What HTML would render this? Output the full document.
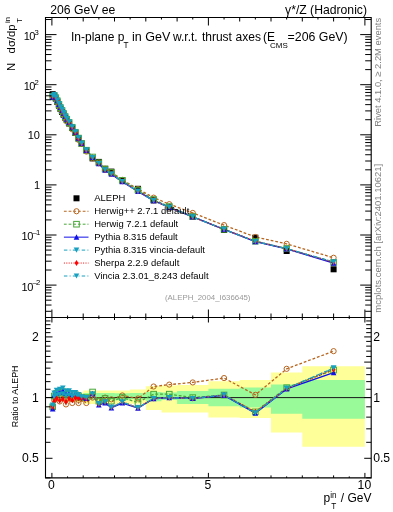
<!DOCTYPE html><html><head><meta charset="utf-8"><style>html,body{margin:0;padding:0;background:#fff;width:393px;height:512px;overflow:hidden;position:relative}</style></head><body><svg width="393" height="512" viewBox="0 0 393 512" style="position:absolute;left:0;top:0;will-change:transform">
<rect width="393" height="512" fill="#fff"/>
<defs><clipPath id="cm"><rect x="46" y="18" width="324.7" height="299"/></clipPath>
<clipPath id="cr"><rect x="46" y="318" width="324.7" height="159.2"/></clipPath></defs>
<g clip-path="url(#cr)">
<path d="M51.90,394.17 L53.46,394.17 L53.46,394.17 L55.03,394.17 L55.03,394.17 L58.16,394.17 L58.16,394.17 L61.29,394.17 L61.29,394.17 L64.42,394.17 L64.42,394.17 L67.55,394.17 L67.55,392.50 L70.68,392.50 L70.68,392.50 L73.81,392.50 L73.81,392.50 L76.94,392.50 L76.94,392.50 L80.07,392.50 L80.07,392.50 L83.20,392.50 L83.20,390.46 L89.46,390.46 L89.46,390.46 L95.72,390.46 L95.72,390.46 L101.98,390.46 L101.98,390.46 L108.24,390.46 L108.24,390.46 L114.50,390.46 L114.50,390.46 L130.15,390.46 L130.15,389.41 L145.80,389.41 L145.80,386.28 L161.45,386.28 L161.45,385.59 L177.10,385.59 L177.10,384.98 L208.40,384.98 L208.40,381.20 L239.70,381.20 L239.70,379.97 L271.00,379.97 L271.00,372.50 L302.30,372.50 L302.30,366.22 L364.90,366.22 L364.90,446.82 L302.30,446.82 L302.30,432.53 L271.00,432.53 L271.00,418.02 L239.70,418.02 L239.70,417.47 L208.40,417.47 L208.40,412.55 L177.10,412.55 L177.10,412.55 L161.45,412.55 L161.45,409.99 L145.80,409.99 L145.80,403.77 L130.15,403.77 L130.15,403.95 L114.50,403.95 L114.50,403.95 L108.24,403.95 L108.24,403.95 L101.98,403.95 L101.98,403.95 L95.72,403.95 L95.72,403.95 L89.46,403.95 L89.46,403.95 L83.20,403.95 L83.20,402.09 L80.07,402.09 L80.07,402.09 L76.94,402.09 L76.94,402.09 L73.81,402.09 L73.81,402.09 L70.68,402.09 L70.68,402.09 L67.55,402.09 L67.55,401.17 L64.42,401.17 L64.42,401.17 L61.29,401.17 L61.29,401.17 L58.16,401.17 L58.16,401.17 L55.03,401.17 L55.03,401.17 L53.46,401.17 L53.46,401.17 L51.90,401.17Z" fill="#ffff99"/>
<path d="M51.90,395.87 L53.46,395.87 L53.46,395.87 L55.03,395.87 L55.03,395.87 L58.16,395.87 L58.16,395.87 L61.29,395.87 L61.29,395.87 L64.42,395.87 L64.42,395.87 L67.55,395.87 L67.55,395.01 L70.68,395.01 L70.68,395.01 L73.81,395.01 L73.81,395.01 L76.94,395.01 L76.94,395.01 L80.07,395.01 L80.07,395.01 L83.20,395.01 L83.20,392.91 L89.46,392.91 L89.46,392.91 L95.72,392.91 L95.72,392.91 L101.98,392.91 L101.98,392.91 L108.24,392.91 L108.24,392.91 L114.50,392.91 L114.50,393.33 L130.15,393.33 L130.15,393.08 L145.80,393.08 L145.80,391.92 L161.45,391.92 L161.45,392.50 L177.10,392.50 L177.10,391.02 L208.40,391.02 L208.40,388.78 L239.70,388.78 L239.70,387.52 L271.00,387.52 L271.00,384.61 L302.30,384.61 L302.30,379.97 L364.90,379.97 L364.90,418.79 L302.30,418.79 L302.30,413.81 L271.00,413.81 L271.00,407.51 L239.70,407.51 L239.70,406.24 L208.40,406.24 L208.40,403.95 L177.10,403.95 L177.10,400.00 L161.45,400.00 L161.45,401.27 L145.80,401.27 L145.80,399.37 L130.15,399.37 L130.15,400.27 L114.50,400.27 L114.50,400.09 L108.24,400.09 L108.24,400.09 L101.98,400.09 L101.98,400.09 L95.72,400.09 L95.72,400.09 L89.46,400.09 L89.46,400.09 L83.20,400.09 L83.20,399.82 L80.07,399.82 L80.07,399.82 L76.94,399.82 L76.94,399.82 L73.81,399.82 L73.81,399.82 L70.68,399.82 L70.68,399.82 L67.55,399.82 L67.55,399.37 L64.42,399.37 L64.42,399.37 L61.29,399.37 L61.29,399.37 L58.16,399.37 L58.16,399.37 L55.03,399.37 L55.03,399.37 L53.46,399.37 L53.46,399.37 L51.90,399.37Z" fill="#98fa98"/>
<line x1="46" y1="397.6" x2="371" y2="397.6" stroke="#1a1a1a" stroke-width="1"/>
<polyline points="52.68,406.82 54.25,400.27 56.59,398.48 59.73,401.45 62.85,398.48 65.98,404.43 69.12,398.48 72.25,403.02 75.38,398.48 78.50,403.02 81.63,398.92 86.33,403.02 92.59,397.60 98.85,400.27 105.11,397.60 111.37,399.37 122.32,395.44 137.97,398.48 153.62,386.51 169.28,384.61 192.75,382.44 224.05,378.06 255.35,394.84 286.65,368.83 333.60,351.14" fill="none" stroke="#b8651f" stroke-width="1.3" stroke-dasharray="2.8,1.9"/>
<polyline points="52.68,406.82 54.25,396.00 56.59,393.33 59.73,392.50 62.85,391.68 65.98,394.17 69.12,393.33 72.25,394.59 75.38,394.59 78.50,395.87 81.63,397.60 86.33,397.60 92.59,392.00 98.85,401.17 105.11,398.48 111.37,401.17 122.32,397.60 137.97,402.55 153.62,394.17 169.28,394.17 192.75,397.60 224.05,395.01 255.35,411.83 286.65,387.68 333.60,370.04" fill="none" stroke="#48a838" stroke-width="1.3" stroke-dasharray="2.8,1.9"/>
<polyline points="52.68,408.99 54.25,394.96 56.59,392.91 59.73,391.88 62.85,390.82 65.98,393.50 69.12,393.12 72.25,394.38 75.38,394.38 78.50,395.87 81.63,397.16 86.33,398.48 92.59,393.75 98.85,404.90 105.11,403.02 111.37,407.80 122.32,403.02 137.97,408.10 153.62,398.75 169.28,397.60 192.75,398.48 224.05,395.35 255.35,413.18 286.65,388.94 333.60,372.63" fill="none" stroke="#1010e8" stroke-width="1.4"/>
<polyline points="52.68,406.82 54.25,396.83 56.59,395.44 59.73,394.59 62.85,393.75 65.98,395.87 69.12,395.44 72.25,396.30 75.38,396.30 78.50,397.16 81.63,397.60 86.33,397.60 92.59,394.17 98.85,403.95 105.11,402.09 111.37,407.31 122.32,402.09 137.97,407.80 153.62,398.48 169.28,397.60 192.75,398.48 224.05,395.01 255.35,412.87 286.65,388.46 333.60,368.14" fill="none" stroke="#18a0c0" stroke-width="1.3" stroke-dasharray="3.5,2.2,1,2.2"/>
<polyline points="52.68,406.82 54.25,401.15 56.59,398.48 59.73,400.72 62.85,398.92 65.98,401.63 69.12,398.48 72.25,400.27 75.38,398.04 78.50,398.26 81.63,398.48 86.33,398.48 92.59,394.17 98.85,403.95 105.11,402.09 111.37,407.31 122.32,402.09 137.97,407.80 153.62,398.48 169.28,397.60 192.75,398.48 224.05,395.01 255.35,411.83 286.65,388.46 333.60,369.40" fill="none" stroke="#ff0000" stroke-width="1.3" stroke-dasharray="1,1.4"/>
<polyline points="52.68,405.19 54.25,393.12 56.59,390.46 59.73,389.26 62.85,387.99 65.98,391.19 69.12,390.86 72.25,392.50 75.38,392.50 78.50,394.59 81.63,396.73 86.33,397.60 92.59,394.17 98.85,403.95 105.11,402.09 111.37,407.31 122.32,402.09 137.97,407.80 153.62,398.48 169.28,397.60 192.75,398.48 224.05,395.01 255.35,412.87 286.65,388.46 333.60,368.14" fill="none" stroke="#18a0c0" stroke-width="1.3" stroke-dasharray="3.5,2.2,1,2.2"/>
<circle cx="52.68" cy="406.82" r="2.6" fill="none" stroke="#b8651f" stroke-width="1"/>
<circle cx="54.25" cy="400.27" r="2.6" fill="none" stroke="#b8651f" stroke-width="1"/>
<circle cx="56.59" cy="398.48" r="2.6" fill="none" stroke="#b8651f" stroke-width="1"/>
<circle cx="59.73" cy="401.45" r="2.6" fill="none" stroke="#b8651f" stroke-width="1"/>
<circle cx="62.85" cy="398.48" r="2.6" fill="none" stroke="#b8651f" stroke-width="1"/>
<circle cx="65.98" cy="404.43" r="2.6" fill="none" stroke="#b8651f" stroke-width="1"/>
<circle cx="69.12" cy="398.48" r="2.6" fill="none" stroke="#b8651f" stroke-width="1"/>
<circle cx="72.25" cy="403.02" r="2.6" fill="none" stroke="#b8651f" stroke-width="1"/>
<circle cx="75.38" cy="398.48" r="2.6" fill="none" stroke="#b8651f" stroke-width="1"/>
<circle cx="78.50" cy="403.02" r="2.6" fill="none" stroke="#b8651f" stroke-width="1"/>
<circle cx="81.63" cy="398.92" r="2.6" fill="none" stroke="#b8651f" stroke-width="1"/>
<circle cx="86.33" cy="403.02" r="2.6" fill="none" stroke="#b8651f" stroke-width="1"/>
<circle cx="92.59" cy="397.60" r="2.6" fill="none" stroke="#b8651f" stroke-width="1"/>
<circle cx="98.85" cy="400.27" r="2.6" fill="none" stroke="#b8651f" stroke-width="1"/>
<circle cx="105.11" cy="397.60" r="2.6" fill="none" stroke="#b8651f" stroke-width="1"/>
<circle cx="111.37" cy="399.37" r="2.6" fill="none" stroke="#b8651f" stroke-width="1"/>
<circle cx="122.32" cy="395.44" r="2.6" fill="none" stroke="#b8651f" stroke-width="1"/>
<circle cx="137.97" cy="398.48" r="2.6" fill="none" stroke="#b8651f" stroke-width="1"/>
<circle cx="153.62" cy="386.51" r="2.6" fill="none" stroke="#b8651f" stroke-width="1"/>
<circle cx="169.28" cy="384.61" r="2.6" fill="none" stroke="#b8651f" stroke-width="1"/>
<circle cx="192.75" cy="382.44" r="2.6" fill="none" stroke="#b8651f" stroke-width="1"/>
<circle cx="224.05" cy="378.06" r="2.6" fill="none" stroke="#b8651f" stroke-width="1"/>
<circle cx="255.35" cy="394.84" r="2.6" fill="none" stroke="#b8651f" stroke-width="1"/>
<circle cx="286.65" cy="368.83" r="2.6" fill="none" stroke="#b8651f" stroke-width="1"/>
<circle cx="333.60" cy="351.14" r="2.6" fill="none" stroke="#b8651f" stroke-width="1"/>
<rect x="49.88" y="404.02" width="5.6" height="5.6" fill="none" stroke="#48a838" stroke-width="1"/>
<rect x="51.45" y="393.20" width="5.6" height="5.6" fill="none" stroke="#48a838" stroke-width="1"/>
<rect x="53.80" y="390.53" width="5.6" height="5.6" fill="none" stroke="#48a838" stroke-width="1"/>
<rect x="56.93" y="389.70" width="5.6" height="5.6" fill="none" stroke="#48a838" stroke-width="1"/>
<rect x="60.05" y="388.88" width="5.6" height="5.6" fill="none" stroke="#48a838" stroke-width="1"/>
<rect x="63.19" y="391.37" width="5.6" height="5.6" fill="none" stroke="#48a838" stroke-width="1"/>
<rect x="66.32" y="390.53" width="5.6" height="5.6" fill="none" stroke="#48a838" stroke-width="1"/>
<rect x="69.45" y="391.79" width="5.6" height="5.6" fill="none" stroke="#48a838" stroke-width="1"/>
<rect x="72.58" y="391.79" width="5.6" height="5.6" fill="none" stroke="#48a838" stroke-width="1"/>
<rect x="75.70" y="393.07" width="5.6" height="5.6" fill="none" stroke="#48a838" stroke-width="1"/>
<rect x="78.83" y="394.80" width="5.6" height="5.6" fill="none" stroke="#48a838" stroke-width="1"/>
<rect x="83.53" y="394.80" width="5.6" height="5.6" fill="none" stroke="#48a838" stroke-width="1"/>
<rect x="89.79" y="389.20" width="5.6" height="5.6" fill="none" stroke="#48a838" stroke-width="1"/>
<rect x="96.05" y="398.37" width="5.6" height="5.6" fill="none" stroke="#48a838" stroke-width="1"/>
<rect x="102.31" y="395.68" width="5.6" height="5.6" fill="none" stroke="#48a838" stroke-width="1"/>
<rect x="108.57" y="398.37" width="5.6" height="5.6" fill="none" stroke="#48a838" stroke-width="1"/>
<rect x="119.52" y="394.80" width="5.6" height="5.6" fill="none" stroke="#48a838" stroke-width="1"/>
<rect x="135.17" y="399.75" width="5.6" height="5.6" fill="none" stroke="#48a838" stroke-width="1"/>
<rect x="150.82" y="391.37" width="5.6" height="5.6" fill="none" stroke="#48a838" stroke-width="1"/>
<rect x="166.47" y="391.37" width="5.6" height="5.6" fill="none" stroke="#48a838" stroke-width="1"/>
<rect x="189.95" y="394.80" width="5.6" height="5.6" fill="none" stroke="#48a838" stroke-width="1"/>
<rect x="221.25" y="392.21" width="5.6" height="5.6" fill="none" stroke="#48a838" stroke-width="1"/>
<rect x="252.55" y="409.03" width="5.6" height="5.6" fill="none" stroke="#48a838" stroke-width="1"/>
<rect x="283.85" y="384.88" width="5.6" height="5.6" fill="none" stroke="#48a838" stroke-width="1"/>
<rect x="330.80" y="367.24" width="5.6" height="5.6" fill="none" stroke="#48a838" stroke-width="1"/>
<path d="M49.88,411.59L55.48,411.59L52.68,405.99Z" fill="#1010e8"/>
<path d="M51.45,397.56L57.05,397.56L54.25,391.96Z" fill="#1010e8"/>
<path d="M53.80,395.51L59.39,395.51L56.59,389.91Z" fill="#1010e8"/>
<path d="M56.93,394.48L62.52,394.48L59.73,388.88Z" fill="#1010e8"/>
<path d="M60.05,393.42L65.66,393.42L62.85,387.82Z" fill="#1010e8"/>
<path d="M63.19,396.10L68.78,396.10L65.98,390.50Z" fill="#1010e8"/>
<path d="M66.32,395.72L71.92,395.72L69.12,390.12Z" fill="#1010e8"/>
<path d="M69.45,396.98L75.05,396.98L72.25,391.38Z" fill="#1010e8"/>
<path d="M72.58,396.98L78.17,396.98L75.38,391.38Z" fill="#1010e8"/>
<path d="M75.70,398.47L81.30,398.47L78.50,392.87Z" fill="#1010e8"/>
<path d="M78.83,399.76L84.43,399.76L81.63,394.16Z" fill="#1010e8"/>
<path d="M83.53,401.08L89.13,401.08L86.33,395.48Z" fill="#1010e8"/>
<path d="M89.79,396.35L95.39,396.35L92.59,390.75Z" fill="#1010e8"/>
<path d="M96.05,407.50L101.65,407.50L98.85,401.90Z" fill="#1010e8"/>
<path d="M102.31,405.62L107.91,405.62L105.11,400.02Z" fill="#1010e8"/>
<path d="M108.57,410.40L114.17,410.40L111.37,404.80Z" fill="#1010e8"/>
<path d="M119.52,405.62L125.12,405.62L122.32,400.02Z" fill="#1010e8"/>
<path d="M135.17,410.70L140.78,410.70L137.97,405.10Z" fill="#1010e8"/>
<path d="M150.82,401.35L156.43,401.35L153.62,395.75Z" fill="#1010e8"/>
<path d="M166.47,400.20L172.08,400.20L169.28,394.60Z" fill="#1010e8"/>
<path d="M189.95,401.08L195.55,401.08L192.75,395.48Z" fill="#1010e8"/>
<path d="M221.25,397.95L226.85,397.95L224.05,392.35Z" fill="#1010e8"/>
<path d="M252.55,415.78L258.15,415.78L255.35,410.18Z" fill="#1010e8"/>
<path d="M283.85,391.54L289.45,391.54L286.65,385.94Z" fill="#1010e8"/>
<path d="M330.80,375.23L336.40,375.23L333.60,369.63Z" fill="#1010e8"/>
<path d="M49.88,404.22L55.48,404.22L52.68,409.42Z" fill="#18a0c0"/>
<path d="M51.45,394.23L57.05,394.23L54.25,399.43Z" fill="#18a0c0"/>
<path d="M53.80,392.84L59.39,392.84L56.59,398.04Z" fill="#18a0c0"/>
<path d="M56.93,391.99L62.52,391.99L59.73,397.19Z" fill="#18a0c0"/>
<path d="M60.05,391.15L65.66,391.15L62.85,396.35Z" fill="#18a0c0"/>
<path d="M63.19,393.27L68.78,393.27L65.98,398.47Z" fill="#18a0c0"/>
<path d="M66.32,392.84L71.92,392.84L69.12,398.04Z" fill="#18a0c0"/>
<path d="M69.45,393.70L75.05,393.70L72.25,398.90Z" fill="#18a0c0"/>
<path d="M72.58,393.70L78.17,393.70L75.38,398.90Z" fill="#18a0c0"/>
<path d="M75.70,394.56L81.30,394.56L78.50,399.76Z" fill="#18a0c0"/>
<path d="M78.83,395.00L84.43,395.00L81.63,400.20Z" fill="#18a0c0"/>
<path d="M83.53,395.00L89.13,395.00L86.33,400.20Z" fill="#18a0c0"/>
<path d="M89.79,391.57L95.39,391.57L92.59,396.77Z" fill="#18a0c0"/>
<path d="M96.05,401.35L101.65,401.35L98.85,406.55Z" fill="#18a0c0"/>
<path d="M102.31,399.49L107.91,399.49L105.11,404.69Z" fill="#18a0c0"/>
<path d="M108.57,404.71L114.17,404.71L111.37,409.91Z" fill="#18a0c0"/>
<path d="M119.52,399.49L125.12,399.49L122.32,404.69Z" fill="#18a0c0"/>
<path d="M135.17,405.20L140.78,405.20L137.97,410.40Z" fill="#18a0c0"/>
<path d="M150.82,395.88L156.43,395.88L153.62,401.08Z" fill="#18a0c0"/>
<path d="M166.47,395.00L172.08,395.00L169.28,400.20Z" fill="#18a0c0"/>
<path d="M189.95,395.88L195.55,395.88L192.75,401.08Z" fill="#18a0c0"/>
<path d="M221.25,392.41L226.85,392.41L224.05,397.61Z" fill="#18a0c0"/>
<path d="M252.55,410.27L258.15,410.27L255.35,415.47Z" fill="#18a0c0"/>
<path d="M283.85,385.86L289.45,385.86L286.65,391.06Z" fill="#18a0c0"/>
<path d="M330.80,365.54L336.40,365.54L333.60,370.74Z" fill="#18a0c0"/>
<path d="M52.68,403.82L54.58,406.82L52.68,409.82L50.78,406.82Z" fill="#ff0000"/>
<path d="M54.25,398.15L56.15,401.15L54.25,404.15L52.35,401.15Z" fill="#ff0000"/>
<path d="M56.59,395.48L58.49,398.48L56.59,401.48L54.70,398.48Z" fill="#ff0000"/>
<path d="M59.73,397.72L61.62,400.72L59.73,403.72L57.83,400.72Z" fill="#ff0000"/>
<path d="M62.85,395.92L64.75,398.92L62.85,401.92L60.95,398.92Z" fill="#ff0000"/>
<path d="M65.98,398.63L67.89,401.63L65.98,404.63L64.08,401.63Z" fill="#ff0000"/>
<path d="M69.12,395.48L71.02,398.48L69.12,401.48L67.22,398.48Z" fill="#ff0000"/>
<path d="M72.25,397.27L74.15,400.27L72.25,403.27L70.34,400.27Z" fill="#ff0000"/>
<path d="M75.38,395.04L77.28,398.04L75.38,401.04L73.47,398.04Z" fill="#ff0000"/>
<path d="M78.50,395.26L80.41,398.26L78.50,401.26L76.60,398.26Z" fill="#ff0000"/>
<path d="M81.63,395.48L83.53,398.48L81.63,401.48L79.73,398.48Z" fill="#ff0000"/>
<path d="M86.33,395.48L88.23,398.48L86.33,401.48L84.43,398.48Z" fill="#ff0000"/>
<path d="M92.59,391.17L94.49,394.17L92.59,397.17L90.69,394.17Z" fill="#ff0000"/>
<path d="M98.85,400.95L100.75,403.95L98.85,406.95L96.95,403.95Z" fill="#ff0000"/>
<path d="M105.11,399.09L107.01,402.09L105.11,405.09L103.21,402.09Z" fill="#ff0000"/>
<path d="M111.37,404.31L113.27,407.31L111.37,410.31L109.47,407.31Z" fill="#ff0000"/>
<path d="M122.32,399.09L124.22,402.09L122.32,405.09L120.42,402.09Z" fill="#ff0000"/>
<path d="M137.97,404.80L139.88,407.80L137.97,410.80L136.07,407.80Z" fill="#ff0000"/>
<path d="M153.62,395.48L155.53,398.48L153.62,401.48L151.72,398.48Z" fill="#ff0000"/>
<path d="M169.28,394.60L171.18,397.60L169.28,400.60L167.38,397.60Z" fill="#ff0000"/>
<path d="M192.75,395.48L194.65,398.48L192.75,401.48L190.85,398.48Z" fill="#ff0000"/>
<path d="M224.05,392.01L225.95,395.01L224.05,398.01L222.15,395.01Z" fill="#ff0000"/>
<path d="M255.35,408.83L257.25,411.83L255.35,414.83L253.45,411.83Z" fill="#ff0000"/>
<path d="M286.65,385.46L288.55,388.46L286.65,391.46L284.75,388.46Z" fill="#ff0000"/>
<path d="M333.60,366.40L335.50,369.40L333.60,372.40L331.70,369.40Z" fill="#ff0000"/>
<path d="M49.88,402.59L55.48,402.59L52.68,407.79Z" fill="#18a0c0"/>
<path d="M51.45,390.52L57.05,390.52L54.25,395.72Z" fill="#18a0c0"/>
<path d="M53.80,387.86L59.39,387.86L56.59,393.06Z" fill="#18a0c0"/>
<path d="M56.93,386.66L62.52,386.66L59.73,391.86Z" fill="#18a0c0"/>
<path d="M60.05,385.39L65.66,385.39L62.85,390.59Z" fill="#18a0c0"/>
<path d="M63.19,388.59L68.78,388.59L65.98,393.79Z" fill="#18a0c0"/>
<path d="M66.32,388.26L71.92,388.26L69.12,393.46Z" fill="#18a0c0"/>
<path d="M69.45,389.90L75.05,389.90L72.25,395.10Z" fill="#18a0c0"/>
<path d="M72.58,389.90L78.17,389.90L75.38,395.10Z" fill="#18a0c0"/>
<path d="M75.70,391.99L81.30,391.99L78.50,397.19Z" fill="#18a0c0"/>
<path d="M78.83,394.13L84.43,394.13L81.63,399.33Z" fill="#18a0c0"/>
<path d="M83.53,395.00L89.13,395.00L86.33,400.20Z" fill="#18a0c0"/>
<path d="M89.79,391.57L95.39,391.57L92.59,396.77Z" fill="#18a0c0"/>
<path d="M96.05,401.35L101.65,401.35L98.85,406.55Z" fill="#18a0c0"/>
<path d="M102.31,399.49L107.91,399.49L105.11,404.69Z" fill="#18a0c0"/>
<path d="M108.57,404.71L114.17,404.71L111.37,409.91Z" fill="#18a0c0"/>
<path d="M119.52,399.49L125.12,399.49L122.32,404.69Z" fill="#18a0c0"/>
<path d="M135.17,405.20L140.78,405.20L137.97,410.40Z" fill="#18a0c0"/>
<path d="M150.82,395.88L156.43,395.88L153.62,401.08Z" fill="#18a0c0"/>
<path d="M166.47,395.00L172.08,395.00L169.28,400.20Z" fill="#18a0c0"/>
<path d="M189.95,395.88L195.55,395.88L192.75,401.08Z" fill="#18a0c0"/>
<path d="M221.25,392.41L226.85,392.41L224.05,397.61Z" fill="#18a0c0"/>
<path d="M252.55,410.27L258.15,410.27L255.35,415.47Z" fill="#18a0c0"/>
<path d="M283.85,385.86L289.45,385.86L286.65,391.06Z" fill="#18a0c0"/>
<path d="M330.80,365.54L336.40,365.54L333.60,370.74Z" fill="#18a0c0"/>
</g>
<g clip-path="url(#cm)">
<polyline points="52.68,96.49 54.25,96.46 55.81,98.97 57.38,102.40 58.94,106.44 60.51,109.77 62.07,112.40 63.64,115.45 65.20,118.94 66.77,121.44 69.12,123.72 72.25,129.35 75.38,133.22 78.50,139.85 81.63,143.83 86.33,151.55 92.59,158.40 98.85,162.56 105.11,168.80 111.37,172.04 122.32,179.86 137.97,189.02 153.62,197.64 169.28,204.17 192.75,212.93 224.05,225.14 255.35,237.01 286.65,243.85 333.60,257.75" fill="none" stroke="#b8651f" stroke-width="1.3" stroke-dasharray="2.8,1.9"/>
<polyline points="52.68,96.49 54.25,95.40 55.81,97.76 57.38,100.89 58.94,104.45 60.51,107.68 62.07,110.58 63.64,113.56 65.20,116.62 66.77,119.22 69.12,122.44 72.25,127.25 75.38,132.25 78.50,138.07 81.63,143.50 86.33,150.20 92.59,157.01 98.85,162.79 105.11,169.02 111.37,172.49 122.32,180.40 137.97,190.03 153.62,199.55 169.28,206.55 192.75,216.70 224.05,229.36 255.35,241.24 286.65,248.53 333.60,262.45" fill="none" stroke="#48a838" stroke-width="1.3" stroke-dasharray="2.8,1.9"/>
<polyline points="52.68,97.03 54.25,95.14 55.81,97.60 57.38,100.77 58.94,104.31 60.51,107.51 62.07,110.38 63.64,113.35 65.20,116.44 66.77,119.08 69.12,122.39 72.25,127.20 75.38,132.20 78.50,138.07 81.63,143.39 86.33,150.42 92.59,157.44 98.85,163.71 105.11,170.15 111.37,174.14 122.32,181.75 137.97,191.41 153.62,200.68 169.28,207.40 192.75,216.92 224.05,229.44 255.35,241.57 286.65,248.85 333.60,263.10" fill="none" stroke="#1010e8" stroke-width="1.4"/>
<polyline points="52.68,96.49 54.25,95.61 55.81,98.18 57.38,101.41 58.94,104.97 60.51,108.20 62.07,111.09 63.64,114.05 65.20,117.06 66.77,119.67 69.12,122.96 72.25,127.68 75.38,132.68 78.50,138.39 81.63,143.50 86.33,150.20 92.59,157.55 98.85,163.48 105.11,169.92 111.37,174.01 122.32,181.52 137.97,191.34 153.62,200.62 169.28,207.40 192.75,216.92 224.05,229.36 255.35,241.49 286.65,248.73 333.60,261.98" fill="none" stroke="#18a0c0" stroke-width="1.3" stroke-dasharray="3.5,2.2,1,2.2"/>
<polyline points="52.68,96.49 54.25,95.42 55.81,97.76 57.38,100.86 58.94,104.37 60.51,107.55 62.07,110.39 63.64,113.38 65.20,116.54 66.77,119.23 69.12,122.54 72.25,127.46 75.38,132.46 78.50,138.50 81.63,143.72 86.33,150.42 92.59,157.55 98.85,163.48 105.11,169.92 111.37,174.01 122.32,181.52 137.97,191.34 153.62,200.62 169.28,207.40 192.75,216.92 224.05,229.36 255.35,241.24 286.65,248.73 333.60,262.29" fill="none" stroke="#ff0000" stroke-width="1.3" stroke-dasharray="1,1.4"/>
<polyline points="52.68,96.09 54.25,94.69 55.81,97.04 57.38,100.15 58.94,103.67 60.51,106.85 62.07,109.69 63.64,112.68 65.20,115.83 66.77,118.51 69.12,121.83 72.25,126.73 75.38,131.73 78.50,137.75 81.63,143.28 86.33,150.20 92.59,157.55 98.85,163.48 105.11,169.92 111.37,174.01 122.32,181.52 137.97,191.34 153.62,200.62 169.28,207.40 192.75,216.92 224.05,229.36 255.35,241.49 286.65,248.73 333.60,261.98" fill="none" stroke="#18a0c0" stroke-width="1.3" stroke-dasharray="3.5,2.2,1,2.2"/>
<rect x="49.68" y="91.20" width="6" height="6" fill="#000"/>
<rect x="51.25" y="92.80" width="6" height="6" fill="#000"/>
<rect x="52.81" y="95.60" width="6" height="6" fill="#000"/>
<rect x="54.38" y="99.00" width="6" height="6" fill="#000"/>
<rect x="55.94" y="102.67" width="6" height="6" fill="#000"/>
<rect x="57.51" y="106.00" width="6" height="6" fill="#000"/>
<rect x="59.07" y="109.00" width="6" height="6" fill="#000"/>
<rect x="60.64" y="111.88" width="6" height="6" fill="#000"/>
<rect x="62.20" y="114.62" width="6" height="6" fill="#000"/>
<rect x="63.77" y="117.12" width="6" height="6" fill="#000"/>
<rect x="66.12" y="120.50" width="6" height="6" fill="#000"/>
<rect x="69.25" y="125.00" width="6" height="6" fill="#000"/>
<rect x="72.38" y="130.00" width="6" height="6" fill="#000"/>
<rect x="75.50" y="135.50" width="6" height="6" fill="#000"/>
<rect x="78.63" y="140.50" width="6" height="6" fill="#000"/>
<rect x="83.33" y="147.20" width="6" height="6" fill="#000"/>
<rect x="89.59" y="155.40" width="6" height="6" fill="#000"/>
<rect x="95.85" y="158.90" width="6" height="6" fill="#000"/>
<rect x="102.11" y="165.80" width="6" height="6" fill="#000"/>
<rect x="108.37" y="168.60" width="6" height="6" fill="#000"/>
<rect x="119.32" y="177.40" width="6" height="6" fill="#000"/>
<rect x="134.97" y="185.80" width="6" height="6" fill="#000"/>
<rect x="150.62" y="197.40" width="6" height="6" fill="#000"/>
<rect x="166.28" y="204.40" width="6" height="6" fill="#000"/>
<rect x="189.75" y="213.70" width="6" height="6" fill="#000"/>
<rect x="221.05" y="227.00" width="6" height="6" fill="#000"/>
<rect x="252.35" y="234.70" width="6" height="6" fill="#000"/>
<rect x="283.65" y="248.00" width="6" height="6" fill="#000"/>
<rect x="330.60" y="266.30" width="6" height="6" fill="#000"/>
<circle cx="52.68" cy="96.49" r="2.6" fill="none" stroke="#b8651f" stroke-width="1"/>
<circle cx="54.25" cy="96.46" r="2.6" fill="none" stroke="#b8651f" stroke-width="1"/>
<circle cx="55.81" cy="98.97" r="2.6" fill="none" stroke="#b8651f" stroke-width="1"/>
<circle cx="57.38" cy="102.40" r="2.6" fill="none" stroke="#b8651f" stroke-width="1"/>
<circle cx="58.94" cy="106.44" r="2.6" fill="none" stroke="#b8651f" stroke-width="1"/>
<circle cx="60.51" cy="109.77" r="2.6" fill="none" stroke="#b8651f" stroke-width="1"/>
<circle cx="62.07" cy="112.40" r="2.6" fill="none" stroke="#b8651f" stroke-width="1"/>
<circle cx="63.64" cy="115.45" r="2.6" fill="none" stroke="#b8651f" stroke-width="1"/>
<circle cx="65.20" cy="118.94" r="2.6" fill="none" stroke="#b8651f" stroke-width="1"/>
<circle cx="66.77" cy="121.44" r="2.6" fill="none" stroke="#b8651f" stroke-width="1"/>
<circle cx="69.12" cy="123.72" r="2.6" fill="none" stroke="#b8651f" stroke-width="1"/>
<circle cx="72.25" cy="129.35" r="2.6" fill="none" stroke="#b8651f" stroke-width="1"/>
<circle cx="75.38" cy="133.22" r="2.6" fill="none" stroke="#b8651f" stroke-width="1"/>
<circle cx="78.50" cy="139.85" r="2.6" fill="none" stroke="#b8651f" stroke-width="1"/>
<circle cx="81.63" cy="143.83" r="2.6" fill="none" stroke="#b8651f" stroke-width="1"/>
<circle cx="86.33" cy="151.55" r="2.6" fill="none" stroke="#b8651f" stroke-width="1"/>
<circle cx="92.59" cy="158.40" r="2.6" fill="none" stroke="#b8651f" stroke-width="1"/>
<circle cx="98.85" cy="162.56" r="2.6" fill="none" stroke="#b8651f" stroke-width="1"/>
<circle cx="105.11" cy="168.80" r="2.6" fill="none" stroke="#b8651f" stroke-width="1"/>
<circle cx="111.37" cy="172.04" r="2.6" fill="none" stroke="#b8651f" stroke-width="1"/>
<circle cx="122.32" cy="179.86" r="2.6" fill="none" stroke="#b8651f" stroke-width="1"/>
<circle cx="137.97" cy="189.02" r="2.6" fill="none" stroke="#b8651f" stroke-width="1"/>
<circle cx="153.62" cy="197.64" r="2.6" fill="none" stroke="#b8651f" stroke-width="1"/>
<circle cx="169.28" cy="204.17" r="2.6" fill="none" stroke="#b8651f" stroke-width="1"/>
<circle cx="192.75" cy="212.93" r="2.6" fill="none" stroke="#b8651f" stroke-width="1"/>
<circle cx="224.05" cy="225.14" r="2.6" fill="none" stroke="#b8651f" stroke-width="1"/>
<circle cx="255.35" cy="237.01" r="2.6" fill="none" stroke="#b8651f" stroke-width="1"/>
<circle cx="286.65" cy="243.85" r="2.6" fill="none" stroke="#b8651f" stroke-width="1"/>
<circle cx="333.60" cy="257.75" r="2.6" fill="none" stroke="#b8651f" stroke-width="1"/>
<rect x="49.88" y="93.69" width="5.6" height="5.6" fill="none" stroke="#48a838" stroke-width="1"/>
<rect x="51.45" y="92.60" width="5.6" height="5.6" fill="none" stroke="#48a838" stroke-width="1"/>
<rect x="53.01" y="94.96" width="5.6" height="5.6" fill="none" stroke="#48a838" stroke-width="1"/>
<rect x="54.58" y="98.09" width="5.6" height="5.6" fill="none" stroke="#48a838" stroke-width="1"/>
<rect x="56.14" y="101.65" width="5.6" height="5.6" fill="none" stroke="#48a838" stroke-width="1"/>
<rect x="57.71" y="104.88" width="5.6" height="5.6" fill="none" stroke="#48a838" stroke-width="1"/>
<rect x="59.27" y="107.78" width="5.6" height="5.6" fill="none" stroke="#48a838" stroke-width="1"/>
<rect x="60.84" y="110.76" width="5.6" height="5.6" fill="none" stroke="#48a838" stroke-width="1"/>
<rect x="62.40" y="113.82" width="5.6" height="5.6" fill="none" stroke="#48a838" stroke-width="1"/>
<rect x="63.97" y="116.42" width="5.6" height="5.6" fill="none" stroke="#48a838" stroke-width="1"/>
<rect x="66.32" y="119.64" width="5.6" height="5.6" fill="none" stroke="#48a838" stroke-width="1"/>
<rect x="69.45" y="124.45" width="5.6" height="5.6" fill="none" stroke="#48a838" stroke-width="1"/>
<rect x="72.58" y="129.45" width="5.6" height="5.6" fill="none" stroke="#48a838" stroke-width="1"/>
<rect x="75.70" y="135.27" width="5.6" height="5.6" fill="none" stroke="#48a838" stroke-width="1"/>
<rect x="78.83" y="140.70" width="5.6" height="5.6" fill="none" stroke="#48a838" stroke-width="1"/>
<rect x="83.53" y="147.40" width="5.6" height="5.6" fill="none" stroke="#48a838" stroke-width="1"/>
<rect x="89.79" y="154.21" width="5.6" height="5.6" fill="none" stroke="#48a838" stroke-width="1"/>
<rect x="96.05" y="159.99" width="5.6" height="5.6" fill="none" stroke="#48a838" stroke-width="1"/>
<rect x="102.31" y="166.22" width="5.6" height="5.6" fill="none" stroke="#48a838" stroke-width="1"/>
<rect x="108.57" y="169.69" width="5.6" height="5.6" fill="none" stroke="#48a838" stroke-width="1"/>
<rect x="119.52" y="177.60" width="5.6" height="5.6" fill="none" stroke="#48a838" stroke-width="1"/>
<rect x="135.17" y="187.23" width="5.6" height="5.6" fill="none" stroke="#48a838" stroke-width="1"/>
<rect x="150.82" y="196.75" width="5.6" height="5.6" fill="none" stroke="#48a838" stroke-width="1"/>
<rect x="166.47" y="203.75" width="5.6" height="5.6" fill="none" stroke="#48a838" stroke-width="1"/>
<rect x="189.95" y="213.90" width="5.6" height="5.6" fill="none" stroke="#48a838" stroke-width="1"/>
<rect x="221.25" y="226.56" width="5.6" height="5.6" fill="none" stroke="#48a838" stroke-width="1"/>
<rect x="252.55" y="238.44" width="5.6" height="5.6" fill="none" stroke="#48a838" stroke-width="1"/>
<rect x="283.85" y="245.73" width="5.6" height="5.6" fill="none" stroke="#48a838" stroke-width="1"/>
<rect x="330.80" y="259.65" width="5.6" height="5.6" fill="none" stroke="#48a838" stroke-width="1"/>
<path d="M49.88,99.63L55.48,99.63L52.68,94.03Z" fill="#1010e8"/>
<path d="M51.45,97.74L57.05,97.74L54.25,92.14Z" fill="#1010e8"/>
<path d="M53.01,100.20L58.61,100.20L55.81,94.60Z" fill="#1010e8"/>
<path d="M54.58,103.37L60.18,103.37L57.38,97.77Z" fill="#1010e8"/>
<path d="M56.14,106.91L61.74,106.91L58.94,101.31Z" fill="#1010e8"/>
<path d="M57.71,110.11L63.31,110.11L60.51,104.51Z" fill="#1010e8"/>
<path d="M59.27,112.98L64.87,112.98L62.07,107.38Z" fill="#1010e8"/>
<path d="M60.84,115.95L66.44,115.95L63.64,110.35Z" fill="#1010e8"/>
<path d="M62.40,119.04L68.00,119.04L65.20,113.44Z" fill="#1010e8"/>
<path d="M63.97,121.68L69.57,121.68L66.77,116.08Z" fill="#1010e8"/>
<path d="M66.32,124.99L71.92,124.99L69.12,119.39Z" fill="#1010e8"/>
<path d="M69.45,129.80L75.05,129.80L72.25,124.20Z" fill="#1010e8"/>
<path d="M72.58,134.80L78.17,134.80L75.38,129.20Z" fill="#1010e8"/>
<path d="M75.70,140.67L81.30,140.67L78.50,135.07Z" fill="#1010e8"/>
<path d="M78.83,145.99L84.43,145.99L81.63,140.39Z" fill="#1010e8"/>
<path d="M83.53,153.02L89.13,153.02L86.33,147.42Z" fill="#1010e8"/>
<path d="M89.79,160.04L95.39,160.04L92.59,154.44Z" fill="#1010e8"/>
<path d="M96.05,166.31L101.65,166.31L98.85,160.71Z" fill="#1010e8"/>
<path d="M102.31,172.75L107.91,172.75L105.11,167.15Z" fill="#1010e8"/>
<path d="M108.57,176.74L114.17,176.74L111.37,171.14Z" fill="#1010e8"/>
<path d="M119.52,184.35L125.12,184.35L122.32,178.75Z" fill="#1010e8"/>
<path d="M135.17,194.01L140.78,194.01L137.97,188.41Z" fill="#1010e8"/>
<path d="M150.82,203.28L156.43,203.28L153.62,197.68Z" fill="#1010e8"/>
<path d="M166.47,210.00L172.08,210.00L169.28,204.40Z" fill="#1010e8"/>
<path d="M189.95,219.52L195.55,219.52L192.75,213.92Z" fill="#1010e8"/>
<path d="M221.25,232.04L226.85,232.04L224.05,226.44Z" fill="#1010e8"/>
<path d="M252.55,244.17L258.15,244.17L255.35,238.57Z" fill="#1010e8"/>
<path d="M283.85,251.45L289.45,251.45L286.65,245.85Z" fill="#1010e8"/>
<path d="M330.80,265.70L336.40,265.70L333.60,260.10Z" fill="#1010e8"/>
<path d="M49.88,93.89L55.48,93.89L52.68,99.09Z" fill="#18a0c0"/>
<path d="M51.45,93.01L57.05,93.01L54.25,98.21Z" fill="#18a0c0"/>
<path d="M53.01,95.58L58.61,95.58L55.81,100.78Z" fill="#18a0c0"/>
<path d="M54.58,98.81L60.18,98.81L57.38,104.01Z" fill="#18a0c0"/>
<path d="M56.14,102.37L61.74,102.37L58.94,107.57Z" fill="#18a0c0"/>
<path d="M57.71,105.60L63.31,105.60L60.51,110.80Z" fill="#18a0c0"/>
<path d="M59.27,108.49L64.87,108.49L62.07,113.69Z" fill="#18a0c0"/>
<path d="M60.84,111.45L66.44,111.45L63.64,116.65Z" fill="#18a0c0"/>
<path d="M62.40,114.46L68.00,114.46L65.20,119.66Z" fill="#18a0c0"/>
<path d="M63.97,117.07L69.57,117.07L66.77,122.27Z" fill="#18a0c0"/>
<path d="M66.32,120.36L71.92,120.36L69.12,125.56Z" fill="#18a0c0"/>
<path d="M69.45,125.08L75.05,125.08L72.25,130.28Z" fill="#18a0c0"/>
<path d="M72.58,130.08L78.17,130.08L75.38,135.28Z" fill="#18a0c0"/>
<path d="M75.70,135.79L81.30,135.79L78.50,140.99Z" fill="#18a0c0"/>
<path d="M78.83,140.90L84.43,140.90L81.63,146.10Z" fill="#18a0c0"/>
<path d="M83.53,147.60L89.13,147.60L86.33,152.80Z" fill="#18a0c0"/>
<path d="M89.79,154.95L95.39,154.95L92.59,160.15Z" fill="#18a0c0"/>
<path d="M96.05,160.88L101.65,160.88L98.85,166.08Z" fill="#18a0c0"/>
<path d="M102.31,167.32L107.91,167.32L105.11,172.52Z" fill="#18a0c0"/>
<path d="M108.57,171.41L114.17,171.41L111.37,176.61Z" fill="#18a0c0"/>
<path d="M119.52,178.92L125.12,178.92L122.32,184.12Z" fill="#18a0c0"/>
<path d="M135.17,188.74L140.78,188.74L137.97,193.94Z" fill="#18a0c0"/>
<path d="M150.82,198.02L156.43,198.02L153.62,203.22Z" fill="#18a0c0"/>
<path d="M166.47,204.80L172.08,204.80L169.28,210.00Z" fill="#18a0c0"/>
<path d="M189.95,214.32L195.55,214.32L192.75,219.52Z" fill="#18a0c0"/>
<path d="M221.25,226.76L226.85,226.76L224.05,231.96Z" fill="#18a0c0"/>
<path d="M252.55,238.89L258.15,238.89L255.35,244.09Z" fill="#18a0c0"/>
<path d="M283.85,246.13L289.45,246.13L286.65,251.33Z" fill="#18a0c0"/>
<path d="M330.80,259.38L336.40,259.38L333.60,264.58Z" fill="#18a0c0"/>
<path d="M52.68,93.49L54.58,96.49L52.68,99.49L50.78,96.49Z" fill="#ff0000"/>
<path d="M54.25,92.42L56.15,95.42L54.25,98.42L52.35,95.42Z" fill="#ff0000"/>
<path d="M55.81,94.76L57.71,97.76L55.81,100.76L53.91,97.76Z" fill="#ff0000"/>
<path d="M57.38,97.86L59.28,100.86L57.38,103.86L55.48,100.86Z" fill="#ff0000"/>
<path d="M58.94,101.37L60.84,104.37L58.94,107.37L57.04,104.37Z" fill="#ff0000"/>
<path d="M60.51,104.55L62.41,107.55L60.51,110.55L58.61,107.55Z" fill="#ff0000"/>
<path d="M62.07,107.39L63.97,110.39L62.07,113.39L60.17,110.39Z" fill="#ff0000"/>
<path d="M63.64,110.38L65.54,113.38L63.64,116.38L61.74,113.38Z" fill="#ff0000"/>
<path d="M65.20,113.54L67.10,116.54L65.20,119.54L63.30,116.54Z" fill="#ff0000"/>
<path d="M66.77,116.23L68.67,119.23L66.77,122.23L64.87,119.23Z" fill="#ff0000"/>
<path d="M69.12,119.54L71.02,122.54L69.12,125.54L67.22,122.54Z" fill="#ff0000"/>
<path d="M72.25,124.46L74.15,127.46L72.25,130.46L70.34,127.46Z" fill="#ff0000"/>
<path d="M75.38,129.46L77.28,132.46L75.38,135.46L73.47,132.46Z" fill="#ff0000"/>
<path d="M78.50,135.50L80.41,138.50L78.50,141.50L76.60,138.50Z" fill="#ff0000"/>
<path d="M81.63,140.72L83.53,143.72L81.63,146.72L79.73,143.72Z" fill="#ff0000"/>
<path d="M86.33,147.42L88.23,150.42L86.33,153.42L84.43,150.42Z" fill="#ff0000"/>
<path d="M92.59,154.55L94.49,157.55L92.59,160.55L90.69,157.55Z" fill="#ff0000"/>
<path d="M98.85,160.48L100.75,163.48L98.85,166.48L96.95,163.48Z" fill="#ff0000"/>
<path d="M105.11,166.92L107.01,169.92L105.11,172.92L103.21,169.92Z" fill="#ff0000"/>
<path d="M111.37,171.01L113.27,174.01L111.37,177.01L109.47,174.01Z" fill="#ff0000"/>
<path d="M122.32,178.52L124.22,181.52L122.32,184.52L120.42,181.52Z" fill="#ff0000"/>
<path d="M137.97,188.34L139.88,191.34L137.97,194.34L136.07,191.34Z" fill="#ff0000"/>
<path d="M153.62,197.62L155.53,200.62L153.62,203.62L151.72,200.62Z" fill="#ff0000"/>
<path d="M169.28,204.40L171.18,207.40L169.28,210.40L167.38,207.40Z" fill="#ff0000"/>
<path d="M192.75,213.92L194.65,216.92L192.75,219.92L190.85,216.92Z" fill="#ff0000"/>
<path d="M224.05,226.36L225.95,229.36L224.05,232.36L222.15,229.36Z" fill="#ff0000"/>
<path d="M255.35,238.24L257.25,241.24L255.35,244.24L253.45,241.24Z" fill="#ff0000"/>
<path d="M286.65,245.73L288.55,248.73L286.65,251.73L284.75,248.73Z" fill="#ff0000"/>
<path d="M333.60,259.29L335.50,262.29L333.60,265.29L331.70,262.29Z" fill="#ff0000"/>
<path d="M49.88,93.49L55.48,93.49L52.68,98.69Z" fill="#18a0c0"/>
<path d="M51.45,92.09L57.05,92.09L54.25,97.29Z" fill="#18a0c0"/>
<path d="M53.01,94.44L58.61,94.44L55.81,99.64Z" fill="#18a0c0"/>
<path d="M54.58,97.55L60.18,97.55L57.38,102.75Z" fill="#18a0c0"/>
<path d="M56.14,101.07L61.74,101.07L58.94,106.27Z" fill="#18a0c0"/>
<path d="M57.71,104.25L63.31,104.25L60.51,109.45Z" fill="#18a0c0"/>
<path d="M59.27,107.09L64.87,107.09L62.07,112.29Z" fill="#18a0c0"/>
<path d="M60.84,110.08L66.44,110.08L63.64,115.28Z" fill="#18a0c0"/>
<path d="M62.40,113.23L68.00,113.23L65.20,118.43Z" fill="#18a0c0"/>
<path d="M63.97,115.91L69.57,115.91L66.77,121.11Z" fill="#18a0c0"/>
<path d="M66.32,119.23L71.92,119.23L69.12,124.43Z" fill="#18a0c0"/>
<path d="M69.45,124.13L75.05,124.13L72.25,129.33Z" fill="#18a0c0"/>
<path d="M72.58,129.13L78.17,129.13L75.38,134.33Z" fill="#18a0c0"/>
<path d="M75.70,135.15L81.30,135.15L78.50,140.35Z" fill="#18a0c0"/>
<path d="M78.83,140.68L84.43,140.68L81.63,145.88Z" fill="#18a0c0"/>
<path d="M83.53,147.60L89.13,147.60L86.33,152.80Z" fill="#18a0c0"/>
<path d="M89.79,154.95L95.39,154.95L92.59,160.15Z" fill="#18a0c0"/>
<path d="M96.05,160.88L101.65,160.88L98.85,166.08Z" fill="#18a0c0"/>
<path d="M102.31,167.32L107.91,167.32L105.11,172.52Z" fill="#18a0c0"/>
<path d="M108.57,171.41L114.17,171.41L111.37,176.61Z" fill="#18a0c0"/>
<path d="M119.52,178.92L125.12,178.92L122.32,184.12Z" fill="#18a0c0"/>
<path d="M135.17,188.74L140.78,188.74L137.97,193.94Z" fill="#18a0c0"/>
<path d="M150.82,198.02L156.43,198.02L153.62,203.22Z" fill="#18a0c0"/>
<path d="M166.47,204.80L172.08,204.80L169.28,210.00Z" fill="#18a0c0"/>
<path d="M189.95,214.32L195.55,214.32L192.75,219.52Z" fill="#18a0c0"/>
<path d="M221.25,226.76L226.85,226.76L224.05,231.96Z" fill="#18a0c0"/>
<path d="M252.55,238.89L258.15,238.89L255.35,244.09Z" fill="#18a0c0"/>
<path d="M283.85,246.13L289.45,246.13L286.65,251.33Z" fill="#18a0c0"/>
<path d="M330.80,259.38L336.40,259.38L333.60,264.58Z" fill="#18a0c0"/>
</g>
<path d="M45.5,17.5H371.2V477.9H45.5Z M45.5,317.5H371.2" fill="none" stroke="#000" stroke-width="1.1"/>
<path d="M45.5,311.30h6 M371.2,311.30h-6 M45.5,305.04h6 M371.2,305.04h-6 M45.5,300.18h6 M371.2,300.18h-6 M45.5,296.21h6 M371.2,296.21h-6 M45.5,292.86h6 M371.2,292.86h-6 M45.5,289.96h6 M371.2,289.96h-6 M45.5,287.39h6 M371.2,287.39h-6 M45.5,285.10h11 M371.2,285.10h-11 M45.5,270.02h6 M371.2,270.02h-6 M45.5,261.20h6 M371.2,261.20h-6 M45.5,254.94h6 M371.2,254.94h-6 M45.5,250.08h6 M371.2,250.08h-6 M45.5,246.11h6 M371.2,246.11h-6 M45.5,242.76h6 M371.2,242.76h-6 M45.5,239.86h6 M371.2,239.86h-6 M45.5,237.29h6 M371.2,237.29h-6 M45.5,235.00h11 M371.2,235.00h-11 M45.5,219.92h6 M371.2,219.92h-6 M45.5,211.10h6 M371.2,211.10h-6 M45.5,204.84h6 M371.2,204.84h-6 M45.5,199.98h6 M371.2,199.98h-6 M45.5,196.01h6 M371.2,196.01h-6 M45.5,192.66h6 M371.2,192.66h-6 M45.5,189.76h6 M371.2,189.76h-6 M45.5,187.19h6 M371.2,187.19h-6 M45.5,184.90h11 M371.2,184.90h-11 M45.5,169.82h6 M371.2,169.82h-6 M45.5,161.00h6 M371.2,161.00h-6 M45.5,154.74h6 M371.2,154.74h-6 M45.5,149.88h6 M371.2,149.88h-6 M45.5,145.91h6 M371.2,145.91h-6 M45.5,142.56h6 M371.2,142.56h-6 M45.5,139.66h6 M371.2,139.66h-6 M45.5,137.09h6 M371.2,137.09h-6 M45.5,134.80h11 M371.2,134.80h-11 M45.5,119.72h6 M371.2,119.72h-6 M45.5,110.90h6 M371.2,110.90h-6 M45.5,104.64h6 M371.2,104.64h-6 M45.5,99.78h6 M371.2,99.78h-6 M45.5,95.81h6 M371.2,95.81h-6 M45.5,92.46h6 M371.2,92.46h-6 M45.5,89.56h6 M371.2,89.56h-6 M45.5,86.99h6 M371.2,86.99h-6 M45.5,84.70h11 M371.2,84.70h-11 M45.5,69.62h6 M371.2,69.62h-6 M45.5,60.80h6 M371.2,60.80h-6 M45.5,54.54h6 M371.2,54.54h-6 M45.5,49.68h6 M371.2,49.68h-6 M45.5,45.71h6 M371.2,45.71h-6 M45.5,42.36h6 M371.2,42.36h-6 M45.5,39.46h6 M371.2,39.46h-6 M45.5,36.89h6 M371.2,36.89h-6 M45.5,34.60h11 M371.2,34.60h-11 M45.5,19.52h6 M371.2,19.52h-6 M45.5,477.82h5 M371.2,477.82h-5 M45.5,458.29h7 M371.2,458.29h-7 M45.5,442.32h5 M371.2,442.32h-5 M45.5,428.83h5 M371.2,428.83h-5 M45.5,417.14h5 M371.2,417.14h-5 M45.5,406.82h5 M371.2,406.82h-5 M45.5,397.60h7 M371.2,397.60h-7 M45.5,389.26h5 M371.2,389.26h-5 M45.5,381.64h5 M371.2,381.64h-5 M45.5,374.63h5 M371.2,374.63h-5 M45.5,368.14h5 M371.2,368.14h-5 M45.5,362.10h7 M371.2,362.10h-7 M45.5,356.45h5 M371.2,356.45h-5 M45.5,351.14h5 M371.2,351.14h-5 M45.5,346.14h5 M371.2,346.14h-5 M45.5,341.40h5 M371.2,341.40h-5 M45.5,336.91h7 M371.2,336.91h-7 M45.5,332.64h5 M371.2,332.64h-5 M45.5,328.57h5 M371.2,328.57h-5 M45.5,324.68h5 M371.2,324.68h-5 M45.5,320.95h5 M371.2,320.95h-5 M51.90,17.5v8 M51.90,317.5v-8 M51.90,317.5v5 M51.90,477.9v-5 M67.55,17.5v2 M67.55,317.5v-2 M67.55,317.5v1.5 M67.55,477.9v-1.5 M83.20,17.5v4 M83.20,317.5v-4 M83.20,317.5v2.5 M83.20,477.9v-2.5 M98.85,17.5v2 M98.85,317.5v-2 M98.85,317.5v1.5 M98.85,477.9v-1.5 M114.50,17.5v4 M114.50,317.5v-4 M114.50,317.5v2.5 M114.50,477.9v-2.5 M130.15,17.5v2 M130.15,317.5v-2 M130.15,317.5v1.5 M130.15,477.9v-1.5 M145.80,17.5v4 M145.80,317.5v-4 M145.80,317.5v2.5 M145.80,477.9v-2.5 M161.45,17.5v2 M161.45,317.5v-2 M161.45,317.5v1.5 M161.45,477.9v-1.5 M177.10,17.5v4 M177.10,317.5v-4 M177.10,317.5v2.5 M177.10,477.9v-2.5 M192.75,17.5v2 M192.75,317.5v-2 M192.75,317.5v1.5 M192.75,477.9v-1.5 M208.40,17.5v8 M208.40,317.5v-8 M208.40,317.5v5 M208.40,477.9v-5 M224.05,17.5v2 M224.05,317.5v-2 M224.05,317.5v1.5 M224.05,477.9v-1.5 M239.70,17.5v4 M239.70,317.5v-4 M239.70,317.5v2.5 M239.70,477.9v-2.5 M255.35,17.5v2 M255.35,317.5v-2 M255.35,317.5v1.5 M255.35,477.9v-1.5 M271.00,17.5v4 M271.00,317.5v-4 M271.00,317.5v2.5 M271.00,477.9v-2.5 M286.65,17.5v2 M286.65,317.5v-2 M286.65,317.5v1.5 M286.65,477.9v-1.5 M302.30,17.5v4 M302.30,317.5v-4 M302.30,317.5v2.5 M302.30,477.9v-2.5 M317.95,17.5v2 M317.95,317.5v-2 M317.95,317.5v1.5 M317.95,477.9v-1.5 M333.60,17.5v4 M333.60,317.5v-4 M333.60,317.5v2.5 M333.60,477.9v-2.5 M349.25,17.5v2 M349.25,317.5v-2 M349.25,317.5v1.5 M349.25,477.9v-1.5 M364.90,17.5v8 M364.90,317.5v-8 M364.90,317.5v5 M364.90,477.9v-5" fill="none" stroke="#000" stroke-width="1"/>
<g font-family='"Liberation Sans", sans-serif'>
<text x="50.2" y="14" font-size="12.2" text-anchor="start" fill="#000" >206 GeV ee</text>
<text x="367" y="14" font-size="12.2" text-anchor="end" fill="#000" >γ*/Z (Hadronic)</text>
<text x="71.0" y="40.75" font-size="12">In-plane p</text>
<text x="123.6" y="48.2" font-size="8.2">T</text>
<text x="132.1" y="40.75" font-size="12.5">in GeV</text>
<text x="173.0" y="40.75" font-size="12">w.r.t.</text>
<text x="201.9" y="40.75" font-size="12">thrust</text>
<text x="235.6" y="40.75" font-size="12">axes</text>
<text x="263.0" y="40.75" font-size="12">(E</text>
<text x="270.0" y="47.6" font-size="8.0">CMS</text>
<text x="287.6" y="40.75" font-size="12.35">=206 GeV)</text>
<text x="34.9" y="40.00" font-size="11" text-anchor="end" letter-spacing="-0.5">10</text>
<text x="34.6" y="34.50" font-size="7.7">3</text>
<text x="34.9" y="90.10" font-size="11" text-anchor="end" letter-spacing="-0.5">10</text>
<text x="34.6" y="84.60" font-size="7.7">2</text>
<text x="40" y="139.00" font-size="11" text-anchor="end">10</text>
<text x="40" y="189.10" font-size="11" text-anchor="end">1</text>
<text x="32.8" y="240.40" font-size="11" text-anchor="end" letter-spacing="-0.5">10</text>
<text x="32.6" y="234.90" font-size="7.7" letter-spacing="-0.9">–1</text>
<text x="32.8" y="290.50" font-size="11" text-anchor="end" letter-spacing="-0.5">10</text>
<text x="32.6" y="285.00" font-size="7.7" letter-spacing="-0.9">–2</text>
<text x="38.9" y="341.01" font-size="12.2" text-anchor="end" fill="#000" >2</text>
<text x="373.2" y="341.01" font-size="12.2" text-anchor="start" fill="#000" >2</text>
<text x="38.9" y="401.70" font-size="12.2" text-anchor="end" fill="#000" >1</text>
<text x="373.2" y="401.70" font-size="12.2" text-anchor="start" fill="#000" >1</text>
<text x="38.9" y="462.39" font-size="12.2" text-anchor="end" fill="#000" >0.5</text>
<text x="373.2" y="462.39" font-size="12.2" text-anchor="start" fill="#000" >0.5</text>
<text x="51.40" y="489.2" font-size="12.2" text-anchor="middle" fill="#000" >0</text>
<text x="207.90" y="489.2" font-size="12.2" text-anchor="middle" fill="#000" >5</text>
<text x="364.40" y="489.2" font-size="12.2" text-anchor="middle" fill="#000" >10</text>
<text x="323.6" y="501.5" font-size="12">p</text>
<text x="330.2" y="497.6" font-size="8.2">in</text>
<text x="331.2" y="508.7" font-size="8.2">T</text>
<text x="371.5" y="501.5" font-size="12" text-anchor="end">/ GeV</text>
<g transform="translate(15.3,0) rotate(-90)"><text x="-71.0" y="0" font-size="11.3">N</text><text x="-53.4" y="0" font-size="11.3">dσ/dp</text><text x="-23.0" y="-5.0" font-size="7.6">in</text><text x="-22.8" y="6.6" font-size="7.8">T</text></g>
<text transform="translate(18.3,427.2) rotate(-90)" font-size="8.9">Ratio to ALEPH</text>
<text transform="translate(381.1,126.7) rotate(-90)" font-size="9.4" fill="#808080">Rivet 4.1.0, ≥ 2.2M events</text>
<text transform="translate(381.0,312.7) rotate(-90)" font-size="9.5" fill="#808080">mcplots.cern.ch [arXiv:2401.10621]</text>
<text x="165" y="300" font-size="7.85" text-anchor="start" fill="#999999" >(ALEPH_2004_I636645)</text>
<rect x="73.50" y="195.30" width="6" height="6" fill="#000"/>
<text x="94.3" y="201.00" font-size="9.45" text-anchor="start" fill="#000" >ALEPH</text>
<line x1="63.9" y1="211.25" x2="88.5" y2="211.25" stroke="#b8651f" stroke-width="1" stroke-dasharray="2.8,1.9"/>
<circle cx="76.50" cy="211.25" r="2.6" fill="none" stroke="#b8651f" stroke-width="1"/>
<text x="94.3" y="213.95" font-size="9.45" text-anchor="start" fill="#000" >Herwig++ 2.7.1 default</text>
<line x1="63.9" y1="224.20" x2="88.5" y2="224.20" stroke="#48a838" stroke-width="1" stroke-dasharray="2.8,1.9"/>
<rect x="73.70" y="221.40" width="5.6" height="5.6" fill="none" stroke="#48a838" stroke-width="1"/>
<text x="94.3" y="226.90" font-size="9.45" text-anchor="start" fill="#000" >Herwig 7.2.1 default</text>
<line x1="63.9" y1="237.15" x2="88.5" y2="237.15" stroke="#1010e8" stroke-width="1"/>
<path d="M73.70,239.75L79.30,239.75L76.50,234.15Z" fill="#1010e8"/>
<text x="94.3" y="239.85" font-size="9.45" text-anchor="start" fill="#000" >Pythia 8.315 default</text>
<line x1="63.9" y1="250.10" x2="88.5" y2="250.10" stroke="#18a0c0" stroke-width="1" stroke-dasharray="3.5,2.2,1,2.2"/>
<path d="M73.70,247.50L79.30,247.50L76.50,252.70Z" fill="#18a0c0"/>
<text x="94.3" y="252.80" font-size="9.45" text-anchor="start" fill="#000" >Pythia 8.315 vincia-default</text>
<line x1="63.9" y1="263.05" x2="88.5" y2="263.05" stroke="#ff0000" stroke-width="1" stroke-dasharray="1,1.4"/>
<path d="M76.50,260.05L78.40,263.05L76.50,266.05L74.60,263.05Z" fill="#ff0000"/>
<text x="94.3" y="265.75" font-size="9.45" text-anchor="start" fill="#000" >Sherpa 2.2.9 default</text>
<line x1="63.9" y1="276.00" x2="88.5" y2="276.00" stroke="#18a0c0" stroke-width="1" stroke-dasharray="3.5,2.2,1,2.2"/>
<path d="M73.70,273.40L79.30,273.40L76.50,278.60Z" fill="#18a0c0"/>
<text x="94.3" y="278.70" font-size="9.45" text-anchor="start" fill="#000" >Vincia 2.3.01_8.243 default</text>
</g>
</svg></body></html>
